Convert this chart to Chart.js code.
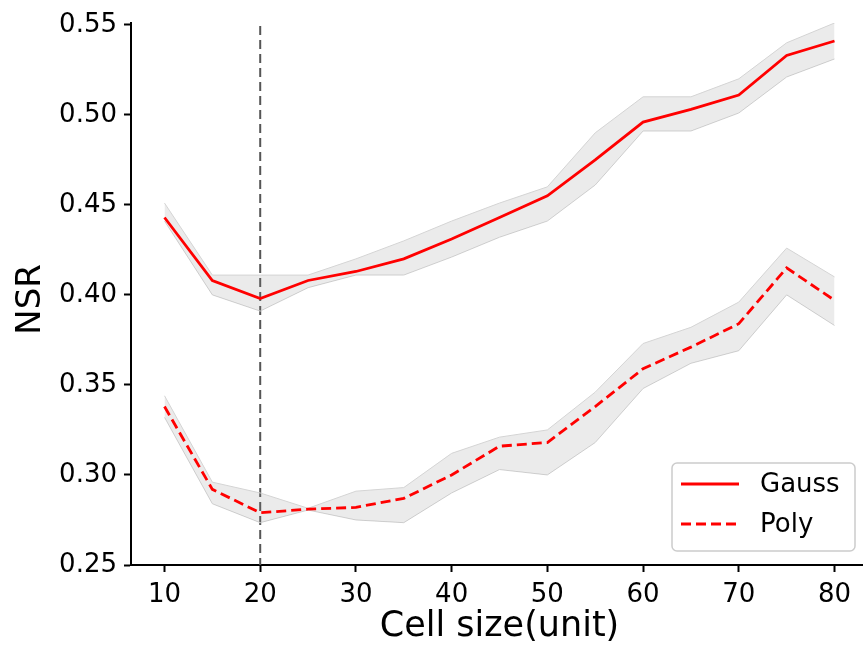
<!DOCTYPE html>
<html lang="en">
<head>
  <meta charset="UTF-8">
  <title>NSR vs cell size</title>
  <script src="https://cdn.jsdelivr.net/npm/chart.js"></script>
  <style>
    html, body { margin: 0; padding: 0; background: #fff; overflow: hidden; }
    #wrap { width: 863px; height: 645px; overflow: hidden; }
  </style>
</head>
<body>
  <div id="wrap"><canvas id="nsrChart" width="870" height="645"></canvas></div>
  <script>
  // data
  const cellSize = [10, 15, 20, 25, 30, 35, 40, 45, 50, 55, 60, 65, 70, 75, 80];
  const gauss   = [0.443, 0.408, 0.398, 0.408, 0.413, 0.420, 0.431, 0.443, 0.455, 0.475, 0.496, 0.503, 0.511, 0.533, 0.541];
  const gaussHi = [0.451, 0.411, 0.411, 0.411, 0.420, 0.430, 0.441, 0.451, 0.460, 0.490, 0.510, 0.510, 0.520, 0.540, 0.551];
  const gaussLo = [0.441, 0.400, 0.391, 0.404, 0.411, 0.411, 0.421, 0.432, 0.441, 0.461, 0.491, 0.491, 0.501, 0.521, 0.531];
  const poly    = [0.338, 0.292, 0.279, 0.281, 0.282, 0.287, 0.300, 0.316, 0.318, 0.338, 0.359, 0.371, 0.384, 0.415, 0.397];
  const polyHi  = [0.344, 0.296, 0.290, 0.2815, 0.291, 0.293, 0.312, 0.321, 0.325, 0.346, 0.373, 0.382, 0.396, 0.426, 0.410];
  const polyLo  = [0.332, 0.284, 0.2735, 0.2805, 0.275, 0.2735, 0.290, 0.303, 0.300, 0.318, 0.348, 0.362, 0.369, 0.400, 0.383];
  const xTicks = [10, 20, 30, 40, 50, 60, 70, 80];
  const yTicks = [0.25, 0.30, 0.35, 0.40, 0.45, 0.50, 0.55];
  const markerX = 20; // dashed vertical reference

  const FONT = "'DejaVu Sans', sans-serif";
  const pts = arr => arr.map((v, i) => ({ x: cellSize[i], y: v }));

  const bandFill = 'rgba(128,128,128,0.16)';
  const bandEdge = '#d4d4d4';

  function band(data, fill) {
    return {
      data: pts(data), fill: fill, order: 2,
      borderColor: bandEdge, borderWidth: 1, backgroundColor: bandFill,
      pointRadius: 0, tension: 0
    };
  }

  // vertical dashed line at markerX
  const markerLine = {
    id: 'markerLine',
    beforeDatasetsDraw(chart) {
      const { ctx, chartArea, scales } = chart;
      const x = scales.x.getPixelForValue(markerX);
      ctx.save();
      ctx.strokeStyle = '#555';
      ctx.lineWidth = 2;
      ctx.setLineDash([9, 5]);
      ctx.beginPath();
      ctx.moveTo(x, chartArea.top + 3);
      ctx.lineTo(x, chartArea.bottom);
      ctx.stroke();
      ctx.restore();
    }
  };

  // matplotlib-like legend box inside the plot (lower right)
  const legendBox = {
    id: 'legendBox',
    afterDatasetsDraw(chart) {
      const { ctx, chartArea } = chart;
      const w = 183, h = 88;
      const x0 = chartArea.right - 13 - w, y0 = chartArea.bottom - 14 - h;
      ctx.save();
      ctx.fillStyle = 'rgba(255,255,255,0.85)';
      ctx.strokeStyle = '#cccccc';
      ctx.lineWidth = 1.5;
      ctx.beginPath();
      ctx.roundRect(x0, y0, w, h, 5);
      ctx.fill();
      ctx.stroke();
      const items = [chart.data.datasets[0], chart.data.datasets[1]];
      items.forEach((ds, i) => {
        const y = y0 + 21 + i * 40;
        ctx.strokeStyle = ds.borderColor;
        ctx.lineWidth = ds.borderWidth;
        ctx.setLineDash(ds.borderDash || []);
        ctx.beginPath();
        ctx.moveTo(x0 + 9, y);
        ctx.lineTo(x0 + 67, y);
        ctx.stroke();
        ctx.setLineDash([]);
        ctx.fillStyle = '#000';
        ctx.font = '26px ' + FONT;
        ctx.textBaseline = 'middle';
        ctx.fillText(ds.label, x0 + 88, y + 1);
      });
      ctx.restore();
    }
  };

  new Chart(document.getElementById('nsrChart'), {
    type: 'line',
    data: {
      datasets: [
        { label: 'Gauss', data: pts(gauss), borderColor: '#ff0000', borderWidth: 2.8, pointRadius: 0, tension: 0, fill: false, order: 0 },
        { label: 'Poly', data: pts(poly), borderColor: '#ff0000', borderWidth: 2.8, borderDash: [10, 5], pointRadius: 0, tension: 0, fill: false, order: 0 },
        band(gaussHi, '+1'),
        band(gaussLo, false),
        band(polyHi, '+1'),
        band(polyLo, false)
      ]
    },
    options: {
      responsive: false,
      animation: false,
      layout: { padding: { left: 0, top: 23, right: 2, bottom: 0 } },
      plugins: { legend: { display: false }, tooltip: { enabled: false } },
      scales: {
        x: {
          type: 'linear', min: 6.5, max: 83.5,
          afterBuildTicks: s => { s.ticks = xTicks.map(v => ({ value: v })); },
          afterFit: s => { s.height = 80; },
          grid: { drawOnChartArea: false, drawTicks: true, tickLength: 7, tickWidth: 2, tickColor: '#000' },
          border: { display: true, color: '#000', width: 2 },
          ticks: { color: '#000', font: { family: FONT, size: 26 }, padding: 8, maxRotation: 0 },
          title: { display: true, text: 'Cell size(unit)', color: '#000', font: { family: FONT, size: 35, lineHeight: 1 }, padding: { top: 0, bottom: 1 } }
        },
        y: {
          type: 'linear', min: 0.25, max: 0.551,
          afterBuildTicks: s => { s.ticks = yTicks.map(v => ({ value: v })); },
          afterFit: s => { s.width = 131; },
          grid: { drawOnChartArea: false, drawTicks: true, tickLength: 7, tickWidth: 2, tickColor: '#000' },
          border: { display: true, color: '#000', width: 2 },
          ticks: { color: '#000', font: { family: FONT, size: 26 }, padding: 7, callback: v => v.toFixed(2) },
          title: { display: true, text: 'NSR ', color: '#000', font: { family: FONT, size: 34, lineHeight: 1 }, padding: { top: 14 } }
        }
      }
    },
    plugins: [markerLine, legendBox]
  });
  </script>
</body>
</html>
